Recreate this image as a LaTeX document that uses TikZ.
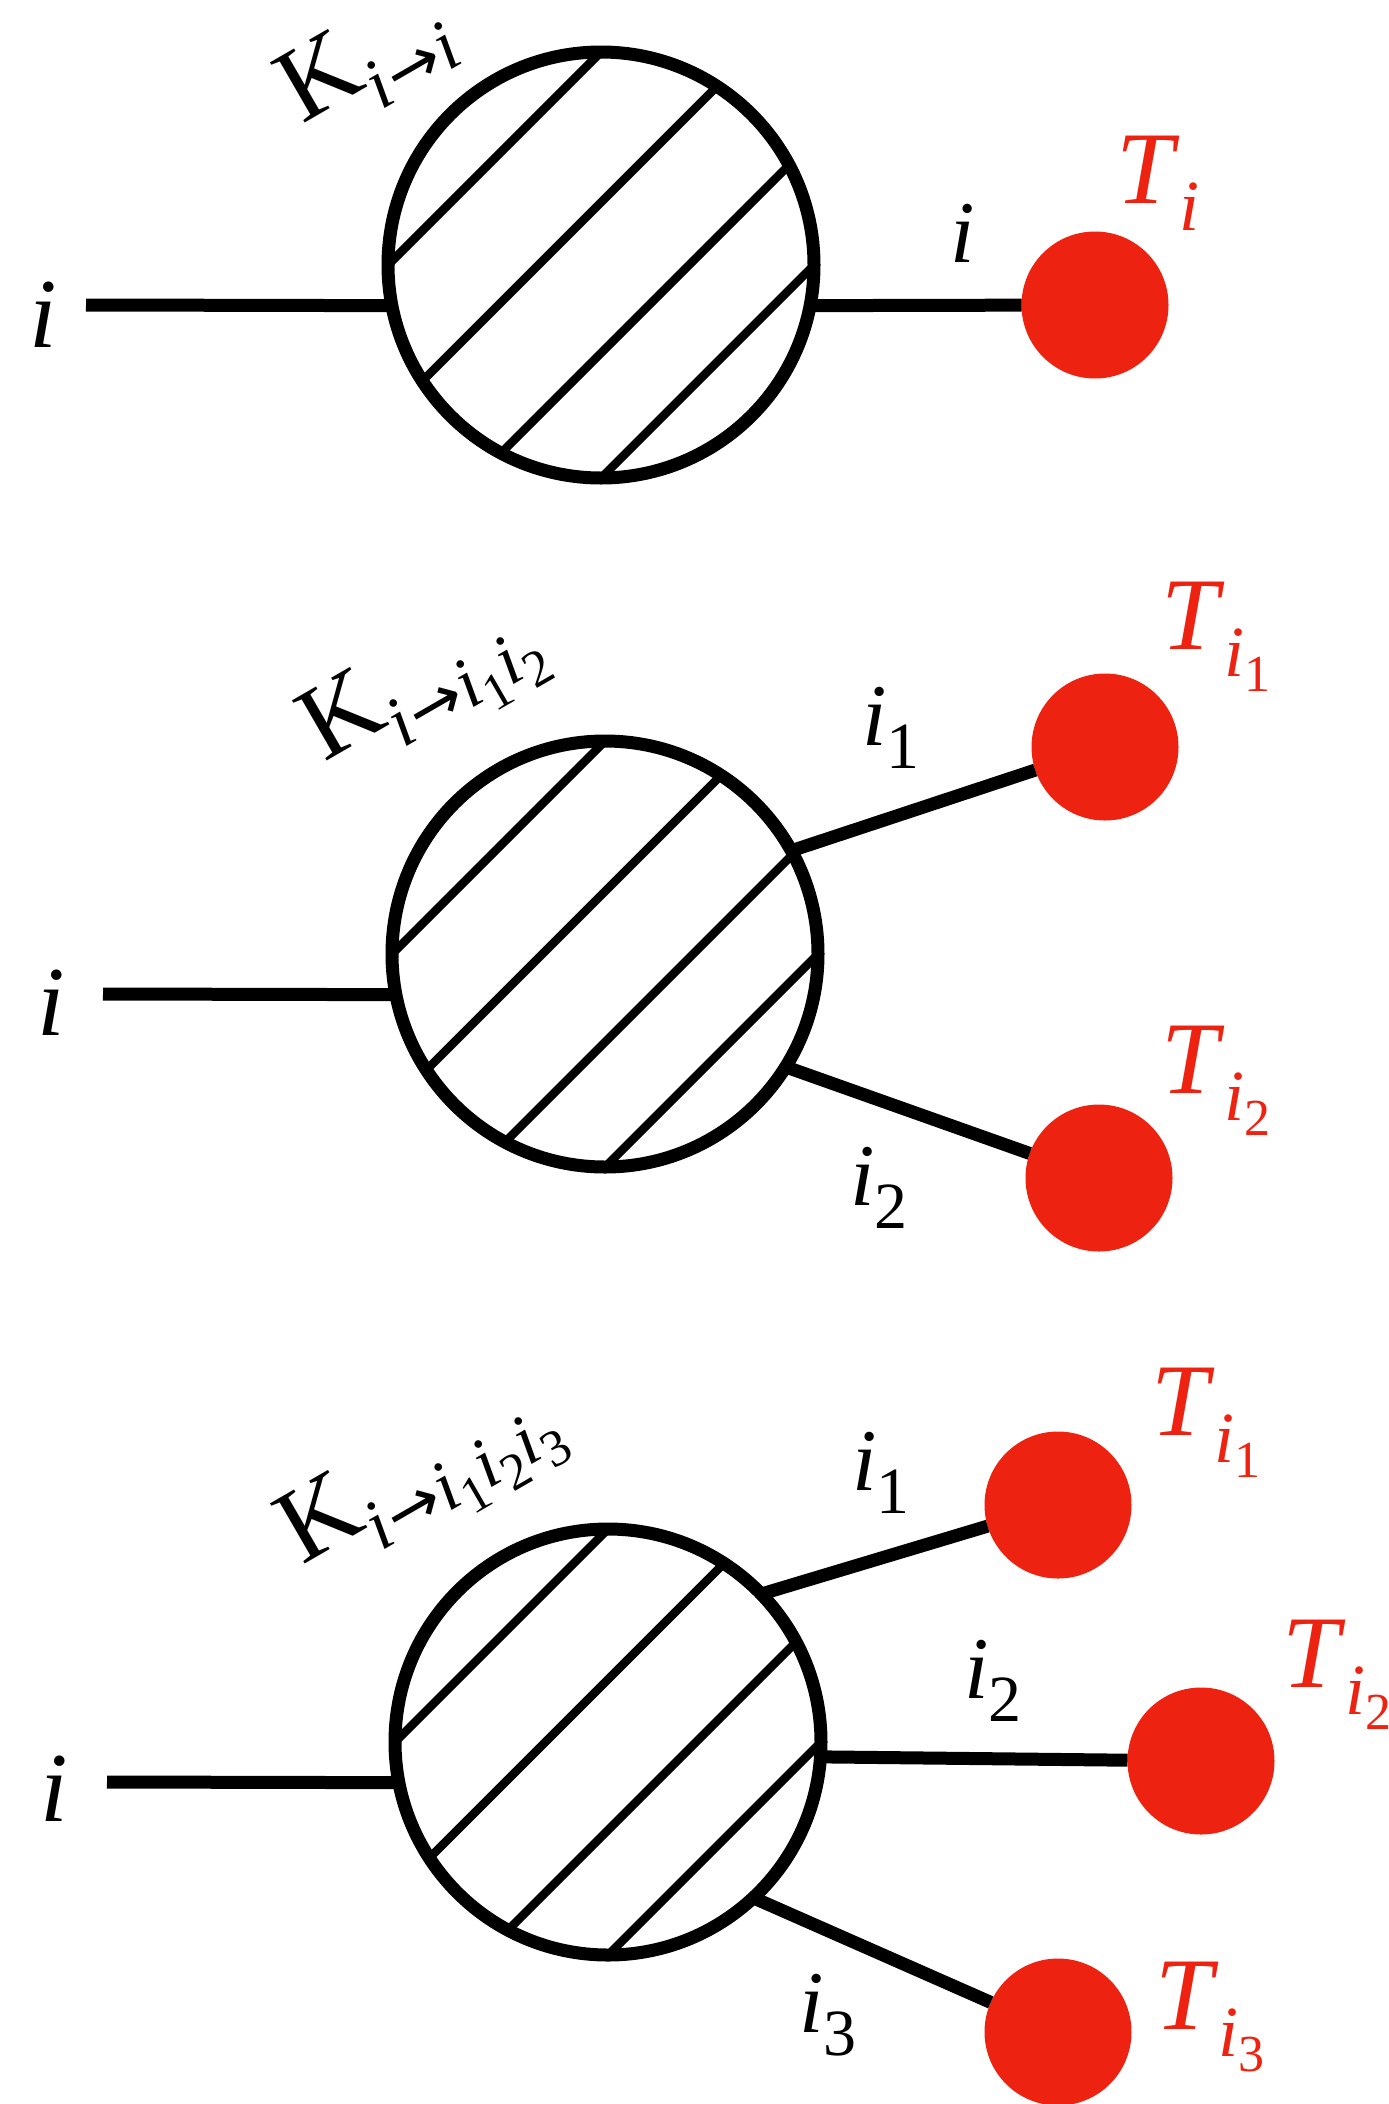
\documentclass[tikz,border=0pt]{standalone}
\usepackage{fontspec}
\setmainfont{Liberation Serif}
\newfontfamily\arrowfont{DejaVu Sans}
\definecolor{dotred}{RGB}{238,34,16}
\newcommand\myfs[1]{\fontsize{#1}{#1}\selectfont}
\newcommand\Tsub[1]{\raisebox{-27pt}{\myfs{72}#1}}
\newcommand\Tsubsub[1]{\raisebox{-15pt}{\myfs{52}#1}}
\newcommand\Bsub[1]{\raisebox{-23pt}{\myfs{66}#1}}
\newcommand\karrow{\kern1pt{\arrowfont\myfs{66}→}\kern1pt}
\newcommand\hatchlines[1]{\draw[hatch] (#1.90)--(#1.180) (#1.57)--(#1.213) (#1.28)--(#1.242) (#1.0)--(#1.270);}
\begin{document}
\begin{tikzpicture}[x=1pt,y=-1pt,
 blob/.style={circle,draw=black,line width=13pt,minimum size=426pt,inner sep=0pt,outer sep=0pt},
 hatch/.style={line width=8.5pt},
 wire/.style={line width=13pt},
 leaf/.style={circle,fill=dotred,minimum size=147pt,inner sep=0pt,outer sep=0pt},
 inlbl/.style={inner sep=0pt,anchor=base,font=\myfs{99}},
 brlbl/.style={inner sep=0pt,anchor=base west,font=\myfs{88}},
 tlbl/.style={inner sep=0pt,anchor=base west,text=dotred,font=\myfs{103}},
 klbl/.style={inner sep=0pt,anchor=base west,rotate=30,font=\myfs{106}}]
\useasboundingbox (0,0) rectangle (1389,2104);
% diagram 1
\node[blob] (b1) at (601,265) {};
\hatchlines{b1}
\node[leaf] (t1) at (1095,305) {};
\coordinate (a1) at (86,305);
\draw[wire] (a1) -- (b1.191);
\draw[wire] (b1.-11) -- (t1);
\node[inlbl] (l1) at (43,347) {\textit{i}};
\node[brlbl] (e1) at (950,262) {\textit{i}};
\node[tlbl] (T1) at (1116,203) {\textit{T}\Tsub{\textit{i}}};
\node[klbl] (k1) at (302,125) {K\Tsub{\textit{i}\karrow\textit{i}}};
% diagram 2
\node[blob] (b2) at (605,954) {};
\hatchlines{b2}
\node[leaf] (t21) at (1105,747) {};
\node[leaf] (t22) at (1099,1178) {};
\coordinate (a2) at (103,994);
\draw[wire] (a2) -- (b2.191);
\draw[wire] (b2.29) -- (t21);
\draw[wire] (b2.-32) -- (t22);
\node[inlbl] (l2) at (51,1035) {\textit{i}};
\node[brlbl] (e21) at (862,745) {\textit{i}\Bsub{1}};
\node[brlbl] (e22) at (850,1205) {\textit{i}\Bsub{2}};
\node[tlbl] (T21) at (1161,649) {\textit{T}\Tsub{\textit{i}\Tsubsub{1}}};
\node[tlbl] (T22) at (1161,1093) {\textit{T}\Tsub{\textit{i}\Tsubsub{2}}};
\node[klbl] (k2) at (324,763) {K\Tsub{\textit{i}\karrow\textit{i}\Tsubsub{1}\textit{i}\Tsubsub{2}}};
% diagram 3
\node[blob] (b3) at (608,1742) {};
\hatchlines{b3}
\node[leaf] (t31) at (1058,1505) {};
\node[leaf] (t32) at (1201,1761) {};
\node[leaf] (t33) at (1058,2032) {};
\coordinate (a3) at (107,1782);
\draw[wire] (a3) -- (b3.191);
\draw[wire] (b3.44) -- (t31);
\draw[wire] (b3.-4) -- (t32);
\draw[wire] (b3.-47) -- (t33);
\node[inlbl] (l3) at (54,1821) {\textit{i}};
\node[brlbl] (e31) at (852,1490) {\textit{i}\Bsub{1}};
\node[brlbl] (e32) at (964,1698) {\textit{i}\Bsub{2}};
\node[brlbl] (e33) at (799,2032) {\textit{i}\Bsub{3}};
\node[tlbl] (T31) at (1151,1435) {\textit{T}\Tsub{\textit{i}\Tsubsub{1}}};
\node[tlbl] (T32) at (1282,1687) {\textit{T}\Tsub{\textit{i}\Tsubsub{2}}};
\node[tlbl] (T33) at (1155,2029) {\textit{T}\Tsub{\textit{i}\Tsubsub{3}}};
\node[klbl] (k3) at (302,1566) {K\Tsub{\textit{i}\karrow\textit{i}\Tsubsub{1}\textit{i}\Tsubsub{2}\textit{i}\Tsubsub{3}}};
\end{tikzpicture}
\end{document}
